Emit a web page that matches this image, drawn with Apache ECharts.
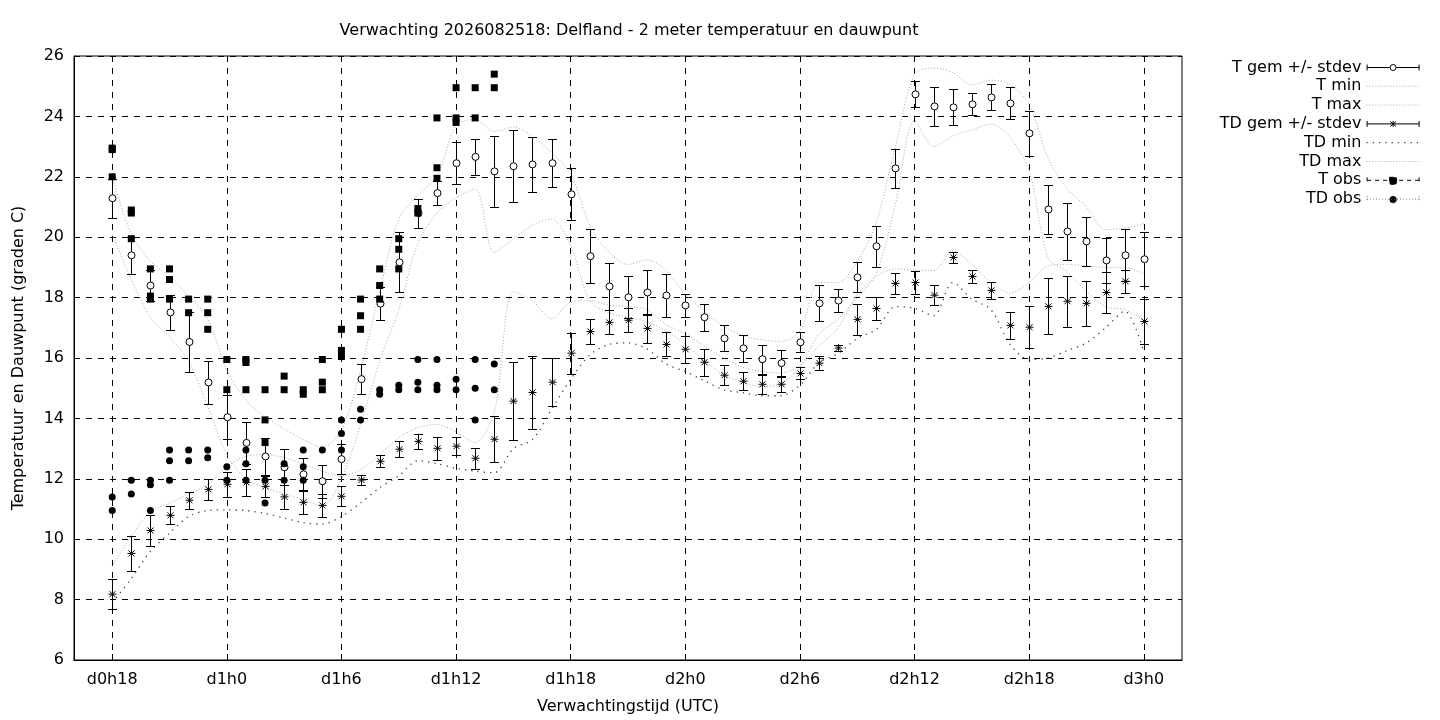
<!DOCTYPE html>
<html><head><meta charset="utf-8">
<script src="https://cdn.jsdelivr.net/npm/echarts@6/dist/echarts.min.js"></script>
<style>html,body{margin:0;padding:0;background:#fff}#c{width:1440px;height:720px}</style>
</head><body><div id="c"></div>
<script>
const categories = ['d0h16','d0h17','d0h18','d0h19','d0h20','d0h21','d0h22','d0h23',
 'd1h0','d1h1','d1h2','d1h3','d1h4','d1h5','d1h6','d1h7','d1h8','d1h9','d1h10','d1h11','d1h12','d1h13','d1h14','d1h15','d1h16','d1h17','d1h18','d1h19','d1h20','d1h21','d1h22','d1h23',
 'd2h0','d2h1','d2h2','d2h3','d2h4','d2h5','d2h6','d2h7','d2h8','d2h9','d2h10','d2h11','d2h12','d2h13','d2h14','d2h15','d2h16','d2h17','d2h18','d2h19','d2h20','d2h21','d2h22','d2h23',
 'd3h0','d3h1','d3h2'];
const tickLabels = ['d0h18','d1h0','d1h6','d1h12','d1h18','d2h0','d2h6','d2h12','d2h18','d3h0'];
const yTicks = [6,8,10,12,14,16,18,20,22,24,26];
const fcHours = categories.slice(2, 57);
const obsHours = categories.slice(2, 23);

const tGem = [21.29,19.40,18.40,17.51,16.53,15.19,14.04,13.19,12.74,12.38,12.15,11.92,
 12.65,15.30,17.80,19.17,20.80,21.46,22.45,22.66,22.18,22.35,22.41,22.45,
 21.42,19.37,18.37,18.01,18.17,18.07,17.74,17.35,16.65,16.32,15.96,15.83,
 16.52,17.81,17.90,18.67,19.70,22.28,24.73,24.33,24.30,24.40,24.63,24.43,
 23.44,20.92,20.19,19.86,19.23,19.40,19.27];
const tSd = [0.65,0.62,0.50,0.57,1.00,0.70,0.73,0.70,0.62,0.60,0.55,0.55,
 0.50,0.49,0.55,1.00,0.48,0.40,0.70,0.60,1.17,1.20,0.90,0.80,
 0.86,0.90,0.79,0.70,0.76,0.71,0.38,0.45,0.43,0.45,0.48,0.44,
 0.33,0.60,0.38,0.50,0.68,0.65,0.43,0.66,0.60,0.36,0.43,0.53,
 0.74,0.81,0.93,0.82,0.76,0.86,0.90];
const tMin = [20.10,18.60,17.35,16.70,15.90,14.40,12.80,12.00,11.70,11.50,11.30,11.10,
 12.00,13.80,15.90,17.60,19.80,20.80,21.30,21.60,19.50,19.95,20.40,20.60,
 19.70,17.90,17.50,17.35,17.20,16.90,16.45,15.90,15.45,15.20,15.05,15.15,
 15.70,16.80,17.30,18.00,18.80,21.10,23.85,23.00,23.35,23.55,23.75,23.30,
 22.20,19.30,18.85,18.20,17.70,17.60,17.25];
const tMax = [22.00,20.10,19.20,18.70,18.05,17.30,15.60,14.60,14.05,13.65,13.30,13.05,
 13.60,15.60,18.20,20.60,21.40,22.00,23.70,23.90,23.50,23.65,23.35,22.80,
 22.10,20.40,19.50,19.10,19.25,18.90,18.10,17.55,17.05,16.75,16.60,16.55,
 16.90,18.50,18.50,19.20,20.50,23.00,25.40,25.60,25.45,25.05,25.20,25.05,
 24.40,22.60,21.60,21.00,20.25,20.30,20.45];
const tdGem = [8.18,9.53,10.29,10.79,11.29,11.65,11.82,11.88,11.75,11.40,11.22,11.12,
 11.42,11.96,12.58,12.98,13.24,13.01,13.08,12.68,13.31,14.57,14.86,15.20,
 16.16,16.88,17.18,17.25,16.98,16.45,16.29,15.86,15.43,15.23,15.13,15.13,
 15.49,15.83,16.33,17.28,17.64,18.47,18.50,18.08,19.33,18.70,18.24,17.08,
 17.02,17.71,17.88,17.81,18.17,18.54,17.21];
const tdSd = [0.50,0.58,0.50,0.30,0.28,0.35,0.42,0.45,0.35,0.40,0.40,0.38,
 0.33,0.18,0.20,0.27,0.25,0.38,0.30,0.35,0.76,1.30,1.20,0.80,
 0.68,0.40,0.40,0.40,0.48,0.40,0.45,0.45,0.33,0.29,0.32,0.25,
 0.20,0.22,0.10,0.52,0.38,0.35,0.38,0.33,0.17,0.20,0.28,0.45,
 0.70,0.93,0.85,0.75,0.68,0.38,0.75];
const tdMin = [7.90,8.70,9.60,10.20,10.75,10.95,10.97,10.95,10.85,10.70,10.55,10.50,
 10.75,11.20,11.70,12.10,12.60,12.50,12.35,12.25,12.20,13.00,13.30,14.30,
 15.30,16.10,16.45,16.50,16.30,15.80,15.55,15.25,14.95,14.85,14.75,14.75,
 15.10,15.85,16.15,16.65,16.95,17.70,17.65,17.40,18.50,17.95,17.60,16.45,
 15.95,16.00,16.25,16.50,17.00,17.55,16.20];
const tdMax = [9.10,10.10,10.90,11.20,11.50,11.80,12.40,12.75,12.80,12.70,12.50,12.25,
 12.10,12.30,12.80,13.35,13.70,13.80,13.55,13.20,14.20,18.20,17.90,17.30,
 17.85,17.90,17.75,17.70,17.60,17.10,16.80,16.40,16.00,15.70,15.55,15.50,
 15.75,16.40,17.00,18.10,18.70,18.95,18.90,18.90,19.55,19.10,18.50,18.15,
 18.50,19.05,19.10,19.05,19.00,19.00,18.80];
const tObs = [[22.95,22.9,22.0],[20.9,20.8,19.95],[18.95,18.05,17.95],[18.95,18.6,17.95],[17.95,17.5],[17.95,17.5,16.95],
 [15.95,14.95],[15.95,15.85,14.95],[14.95,13.95,13.2],[15.4,14.95],[14.95,14.8],[15.95,15.2,14.95],
 [16.95,16.25,16.05],[17.95,17.4,16.95],[18.95,18.4,17.95],[19.95,19.6,18.95],[20.95,20.8],[23.95,22.3,21.95],
 [24.95,23.95,23.8],[24.95,23.95],[25.4,24.95]];
const tdObs = [[11.4,10.95],[11.95,11.5],[11.95,11.8,10.95],[12.95,12.6,11.95],[12.95,12.6],[12.95,12.7],
 [12.4,11.95],[12.95,12.5,11.95],[11.95,11.2],[12.5,11.95],[12.95,12.4,11.95],[12.95],
 [13.95,13.5,12.95],[14.3,13.95],[14.95,14.8],[15.1,14.95],[15.95,15.2,14.95],[15.95,15.1,14.95],
 [15.3,14.95],[15.95,15.0,13.95],[15.8,14.95]];

const idx = h => categories.indexOf(h);
const pairs = arr => fcHours.map((h, i) => [idx(h), arr[i]]);
const triples = (m, s) => fcHours.map((h, i) => [idx(h), m[i], s[i]]);
const obsPairs = obs => { const out = []; obsHours.forEach((h, i) => obs[i].forEach(v => out.push([idx(h), v]))); return out; };

function errRender(kind) {
  return function (params, api) {
    const xi = api.value(0), m = api.value(1), s = api.value(2);
    const p = api.coord([xi, m]), a = api.coord([xi, m + s]), b = api.coord([xi, m - s]);
    const x = Math.round(p[0]) + 0.5;
    const ya = Math.round(a[1]) + 0.5, yb = Math.round(b[1]) + 0.5, yc = p[1];
    const st = { stroke: '#000', lineWidth: 1, fill: null };
    const ch = [
      { type: 'line', shape: { x1: x, y1: ya, x2: x, y2: yb }, style: st },
      { type: 'line', shape: { x1: x - 4.5, y1: ya, x2: x + 4.5, y2: ya }, style: st },
      { type: 'line', shape: { x1: x - 4.5, y1: yb, x2: x + 4.5, y2: yb }, style: st }
    ];
    if (kind === 'circle') {
      ch.push({ type: 'circle', shape: { cx: x, cy: yc, r: 3.5 }, style: { fill: '#fff', stroke: '#000', lineWidth: 1 } });
    } else {
      const r = 4, d = 3;
      ch.push({ type: 'line', shape: { x1: x - r, y1: yc, x2: x + r, y2: yc }, style: st });
      ch.push({ type: 'line', shape: { x1: x, y1: yc - r, x2: x, y2: yc + r }, style: st });
      ch.push({ type: 'line', shape: { x1: x - d, y1: yc - d, x2: x + d, y2: yc + d }, style: st });
      ch.push({ type: 'line', shape: { x1: x - d, y1: yc + d, x2: x + d, y2: yc - d }, style: st });
    }
    return { type: 'group', children: ch };
  };
}

const W = 53;
const bbox = 'M0,0 L0.01,0 M0,12 L0.01,12 ';
const iconTgem = 'path://' + bbox + 'M0.5,3 L0.5,9 M0.5,6 L23.5,6 M29.5,6 L52.5,6 M52.5,3 L52.5,9 M23.5,6 A3,3 0 1 1 29.5,6 A3,3 0 1 1 23.5,6 Z';
const iconTD = 'path://' + bbox + 'M0.5,3 L0.5,9 M0.5,6 L52.5,6 M52.5,3 L52.5,9 M26.5,3 L26.5,9 M23.5,3.5 L29.5,8.5 M29.5,3.5 L23.5,8.5';
const iconTobs = 'path://' + bbox + 'M0.5,3 L0.5,9 M0.5,6 L52.5,6 M52.5,3 L52.5,9 M23,3 L30,3 L30,10 L23,10 Z';
const iconTDobs = 'path://' + bbox + 'M0.5,3 L0.5,9 M0.5,6 L52.5,6 M52.5,3 L52.5,9 M23,6.5 A3.5,3.5 0 1 1 30,6.5 A3.5,3.5 0 1 1 23,6.5 Z';
const iconLine = 'path://' + bbox + 'M0,6 L53,6';

const lightLine = { color: '#a8a8a8', width: 1, type: [1, 2] };
const darkDots = { color: '#444', width: 1.3, type: [1.3, 5] };
const FONT = 'DejaVu Sans';
const FS = 16;

const chart = echarts.init(document.getElementById('c'), null, { renderer: 'canvas' });
chart.setOption({
  animation: false,
  backgroundColor: '#fff',
  textStyle: { fontFamily: FONT, color: '#000' },
  title: {
    text: 'Verwachting 2026082518: Delfland - 2 meter temperatuur en dauwpunt',
    left: 624, top: 18, textAlign: 'center',
    textStyle: { fontFamily: FONT, fontSize: FS, fontWeight: 'normal', color: '#000' }
  },
  grid: { left: 74, right: 258, top: 56, bottom: 60, show: true, borderColor: '#000', borderWidth: 1, backgroundColor: 'transparent' },
  legend: {
    orient: 'vertical', right: 15, top: 54.5, align: 'right',
    itemWidth: W, itemHeight: 12, itemGap: 2.8,
    selectedMode: false,
    textStyle: { fontFamily: FONT, fontSize: FS, color: '#000' },
    data: [
      { name: 'T gem +/- stdev', icon: iconTgem, itemStyle: { color: '#fff', borderColor: '#000', borderWidth: 1, borderType: 'solid' } },
      { name: 'T min', icon: iconLine, itemStyle: { color: 'rgba(0,0,0,0)', borderColor: lightLine.color, borderWidth: 1, borderType: [1, 2] } },
      { name: 'T max', icon: iconLine, itemStyle: { color: 'rgba(0,0,0,0)', borderColor: lightLine.color, borderWidth: 1, borderType: [1, 2] } },
      { name: 'TD gem +/- stdev', icon: iconTD, itemStyle: { color: 'rgba(0,0,0,0)', borderColor: '#000', borderWidth: 1, borderType: 'solid' } },
      { name: 'TD min', icon: iconLine, itemStyle: { color: 'rgba(0,0,0,0)', borderColor: darkDots.color, borderWidth: 1.3, borderType: [1.3, 5] } },
      { name: 'TD max', icon: iconLine, itemStyle: { color: 'rgba(0,0,0,0)', borderColor: lightLine.color, borderWidth: 1, borderType: [1, 2] } },
      { name: 'T obs', icon: iconTobs, itemStyle: { color: '#000', borderColor: '#000', borderWidth: 1, borderType: [4, 4] } },
      { name: 'TD obs', icon: iconTDobs, itemStyle: { color: '#000', borderColor: '#777', borderWidth: 1, borderType: [1, 2] } }
    ]
  },
  xAxis: {
    type: 'category', data: categories, boundaryGap: false,
    name: 'Verwachtingstijd (UTC)', nameLocation: 'middle', nameGap: 39,
    nameTextStyle: { fontFamily: FONT, fontSize: FS, color: '#000' },
    axisLine: { show: true, lineStyle: { color: '#000', width: 1 } },
    axisTick: { show: true, inside: true, length: 6, interval: (i, v) => tickLabels.includes(v), lineStyle: { color: '#000' } },
    axisLabel: { interval: (i, v) => tickLabels.includes(v), margin: 12, fontFamily: FONT, fontSize: FS, color: '#000' },
    splitLine: { show: true, interval: (i, v) => tickLabels.includes(v), lineStyle: { color: '#000', width: 1, type: [6, 6] } }
  },
  yAxis: {
    type: 'value', min: yTicks[0], max: yTicks[yTicks.length - 1], interval: yTicks[1] - yTicks[0],
    name: 'Temperatuur en Dauwpunt (graden C)', nameLocation: 'middle', nameGap: 47, nameRotate: 90,
    nameTextStyle: { fontFamily: FONT, fontSize: FS, color: '#000' },
    axisLine: { show: true, lineStyle: { color: '#000', width: 1 } },
    axisTick: { show: true, inside: true, length: 6, lineStyle: { color: '#000' } },
    axisLabel: { margin: 10, fontFamily: FONT, fontSize: FS, color: '#000' },
    splitLine: { show: true, lineStyle: { color: '#000', width: 1, type: [6, 6] } }
  },
  series: [
    { name: 'T gem +/- stdev', type: 'custom', renderItem: errRender('circle'), data: triples(tGem, tSd), encode: { x: 0, y: 1 }, itemStyle: { color: '#000' }, z: 3 },
    { name: 'T min', type: 'line', data: pairs(tMin), symbol: 'none', smooth: 0.3, lineStyle: lightLine, itemStyle: { color: lightLine.color }, z: 2 },
    { name: 'T max', type: 'line', data: pairs(tMax), symbol: 'none', smooth: 0.3, lineStyle: lightLine, itemStyle: { color: lightLine.color }, z: 2 },
    { name: 'TD gem +/- stdev', type: 'custom', renderItem: errRender('star'), data: triples(tdGem, tdSd), encode: { x: 0, y: 1 }, itemStyle: { color: '#000' }, z: 3 },
    { name: 'TD min', type: 'line', data: pairs(tdMin), symbol: 'none', smooth: 0.3, lineStyle: darkDots, itemStyle: { color: darkDots.color }, z: 2 },
    { name: 'TD max', type: 'line', data: pairs(tdMax), symbol: 'none', smooth: 0.3, lineStyle: lightLine, itemStyle: { color: lightLine.color }, z: 2 },
    { name: 'T obs', type: 'scatter', data: obsPairs(tObs), symbol: 'rect', symbolSize: 7, itemStyle: { color: '#000', opacity: 1 }, z: 4 },
    { name: 'TD obs', type: 'scatter', data: obsPairs(tdObs), symbol: 'circle', symbolSize: 7, itemStyle: { color: '#000', opacity: 1 }, z: 4 }
  ]
});
</script></body></html>
